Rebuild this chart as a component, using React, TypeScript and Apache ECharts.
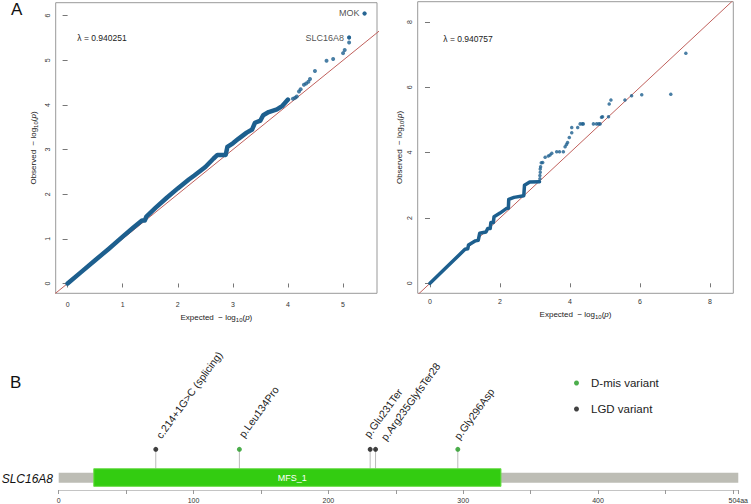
import React, { useEffect, useRef } from "react";
import * as echarts from "echarts";

// ---------- Panel A: QQ plots ----------
const leftLambda = "λ = 0.940251";
const rightLambda = "λ = 0.940757";

// dense body of the left QQ plot (expected, observed)
const leftBulk: [number, number][] = [
  [0, 0], [0.25, 0.26], [0.5, 0.52], [0.75, 0.78], [1.0, 1.05], [1.2, 1.26],
  [1.35, 1.41], [1.4, 1.41], [1.43, 1.5], [1.6, 1.7], [1.8, 1.92], [2.0, 2.13],
  [2.2, 2.33], [2.3, 2.42], [2.5, 2.61], [2.65, 2.8], [2.72, 2.88], [2.87, 2.88],
  [2.9, 3.06], [3.0, 3.14], [3.1, 3.24], [3.25, 3.38], [3.35, 3.45], [3.4, 3.6],
  [3.5, 3.65], [3.55, 3.77], [3.65, 3.84], [3.8, 3.9], [3.9, 3.98], [4.0, 4.12],
];
const leftTail: [number, number][] = [
  [4.09, 4.14], [4.13, 4.16], [4.16, 4.19], [4.2, 4.3], [4.23, 4.35], [4.29, 4.45],
  [4.33, 4.48], [4.37, 4.52], [4.4, 4.58], [4.49, 4.76], [4.7, 4.99], [4.82, 5.03],
  [5.0, 5.16], [5.03, 5.23], [5.11, 5.4], [5.11, 5.51], [5.39, 6.05],
];
const leftLabelNames = ["MOK", "SLC16A8"];
const leftLabelPoints: [number, number][] = [[5.39, 6.05], [5.11, 5.51]];

const rightBulk: [number, number][] = [
  [0, 0], [0.5, 0.52], [1.0, 1.04], [1.08, 1.06], [1.1, 1.17], [1.3, 1.3],
  [1.38, 1.32], [1.42, 1.53], [1.6, 1.57], [1.65, 1.68], [1.72, 1.68], [1.74, 1.86],
  [1.81, 1.86], [1.83, 2.04], [2.0, 2.15], [2.2, 2.3], [2.24, 2.3], [2.25, 2.57],
  [2.4, 2.63], [2.68, 2.68], [2.7, 3.0], [2.85, 3.1], [3.13, 3.11],
];
const rightTail: [number, number][] = [
  [3.14, 3.2], [3.14, 3.3], [3.15, 3.4], [3.15, 3.5], [3.16, 3.57], [3.18, 3.69],
  [3.22, 3.7], [3.29, 3.86], [3.38, 3.9], [3.43, 3.93], [3.48, 3.98], [3.62, 4.03],
  [3.7, 4.03], [3.81, 4.03], [3.86, 4.18], [3.9, 4.25], [3.93, 4.31], [3.98, 4.46],
  [4.05, 4.61], [4.05, 4.77], [4.22, 4.77], [4.29, 4.88], [4.35, 4.88], [4.38, 4.88],
  [4.67, 4.88], [4.76, 4.88], [4.82, 4.88], [4.86, 4.88], [4.9, 5.08], [4.93, 5.1],
  [5.1, 5.1], [5.12, 5.49], [5.17, 5.61], [5.57, 5.61], [5.76, 5.74], [6.05, 5.77],
  [6.88, 5.79], [7.31, 7.04],
];
const leftXTicks = [0, 1, 2, 3, 4, 5];
const leftYTicks = [0, 1, 2, 3, 4, 5, 6];
const rightTicks = [0, 2, 4, 6, 8];
const diagonal: [number, number][] = [[-1, -1], [10, 10]];

// ---------- Panel B: protein diagram ----------
const geneName = "SLC16A8";
const geneLength = 504;
const domainNames = ["MFS_1"];
const domainStarts = [26];
const domainEnds = [328];
const variantNames = [
  "c.214+1G>C (splicing)",
  "p.Leu134Pro",
  "p.Glu231Ter",
  "p.Arg235GlyfsTer28",
  "p.Gly296Asp",
];
const variantPos = [72, 134, 231, 235, 296];
const variantTypes = ["LGD variant", "D-mis variant", "LGD variant", "LGD variant", "D-mis variant"];
const legendNames = ["D-mis variant", "LGD variant"];
const geneTicks = [0, 50, 100, 150, 200, 250, 300, 350, 400, 450, 500, 504];
const geneTickLabels = [0, 100, 200, 300, 400, 504];

// ---------- styles / layout ----------
const FONT = '"Liberation Sans", Arial, Helvetica, sans-serif';
const BLUE = "#1d5f8e";
const RED = "#c0605c";
const DMIS = "#1f9a1f";
const LGD = "#111111";
const GENE_GREY = "#bdbdb5";
const DOMAIN_GREEN = "#33cc11";
// y positions (axis units = px above axis line) inside panel B grid
const GENE_LO = 7.3, GENE_HI = 17.7, DOM_LO = 3.7, DOM_HI = 21.7, HEAD_Y = 41.5;
const LABEL_ANGLE = 54;
// label nudges (px) to keep neighbouring rotated labels apart
const labelNudgeX = [0, -1, -6.5, 5, -4];
const labelNudgeY = [0, -1, -1, 2, 1];

const nameRich = {
  n: { fontSize: 8, color: "#222", fontFamily: FONT },
  s: { fontSize: 6, color: "#222", fontFamily: FONT, padding: [5, 0, 0, 0] },
  i: { fontSize: 8, color: "#222", fontFamily: FONT, fontStyle: "italic" },
};
const expName = "{n|Expected  \u2212 log}{s|10}{n|(}{i|p}{n|)}";
const obsName = "{n|Observed  \u2212 log}{s|10}{n|(}{i|p}{n|)}";

function qqX(gridIndex: number, min: number, max: number, ticks: number[], nameGap: number, margin: number) {
  return {
    type: "value", gridIndex, min, max,
    axisLine: { show: false },
    axisTick: { show: true, length: 4, lineStyle: { color: "#777" }, customValues: ticks },
    axisLabel: { show: true, fontSize: 7, color: "#333", fontFamily: FONT, margin, customValues: ticks },
    splitLine: { show: false },
    name: expName, nameLocation: "middle", nameGap,
    nameTextStyle: { rich: nameRich },
  };
}
function qqY(gridIndex: number, min: number, max: number, ticks: number[], nameGap: number, margin: number) {
  return {
    type: "value", gridIndex, min, max,
    axisLine: { show: false },
    axisTick: { show: true, length: 5, lineStyle: { color: "#777" }, customValues: ticks },
    axisLabel: { show: true, fontSize: 7, color: "#333", fontFamily: FONT, margin, rotate: 90, customValues: ticks },
    splitLine: { show: false },
    name: obsName, nameLocation: "middle", nameGap, nameRotate: 90,
    nameTextStyle: { rich: nameRich },
  };
}

export default function App() {
  const ref = useRef<HTMLDivElement>(null);
  useEffect(() => {
    if (!ref.current) return;
    const chart = echarts.init(ref.current, undefined, { renderer: "svg" });
    const option: any = {
      animation: false,
      backgroundColor: "#ffffff",
      textStyle: { fontFamily: FONT },
      legend: {
        data: legendNames,
        orient: "vertical",
        left: 569,
        top: 372,
        itemWidth: 5,
        itemHeight: 5,
        itemGap: 14,
        icon: "circle",
        selectedMode: false,
        textStyle: { fontSize: 11.5, color: "#222", fontFamily: FONT, padding: [0, 0, 0, 7] },
      },
      grid: [
        { left: 55.7, top: 2.7, width: 321.3, height: 290.6, show: true, borderColor: "#999", borderWidth: 1, containLabel: false },
        { left: 417.7, top: 1.7, width: 315.6, height: 291.6, show: true, borderColor: "#999", borderWidth: 1, containLabel: false },
        { left: 58.7, top: 440, width: 681.9, height: 51, show: false, containLabel: false },
      ],
      xAxis: [
        qqX(0, -0.216, 5.616, leftXTicks, 13, 8),
        qqX(1, -0.351, 8.666, rightTicks, 8, 5),
        {
          type: "value", gridIndex: 2, min: 0, max: geneLength,
          axisLine: { show: true, lineStyle: { color: "#c4c4c4", width: 1 } },
          axisTick: { show: true, length: 4, lineStyle: { color: "#999" }, customValues: geneTicks },
          axisLabel: {
            show: true, fontSize: 7, color: "#333", fontFamily: FONT, margin: 7,
            customValues: geneTickLabels,
            formatter: (v: number) => (v === geneLength ? `${v}aa` : `${v}`),
          },
          splitLine: { show: false },
        },
      ],
      yAxis: [
        qqY(0, -0.22, 6.29, leftYTicks, 17, 5),
        qqY(1, -0.306, 8.62, rightTicks, 12, 5),
        { type: "value", gridIndex: 2, min: 0, max: 51, show: false },
      ],
      series: [
        // left QQ
        { type: "line", xAxisIndex: 0, yAxisIndex: 0, data: diagonal, showSymbol: false, clip: true,
          lineStyle: { color: RED, width: 1 }, silent: true, z: 1 },
        { type: "line", xAxisIndex: 0, yAxisIndex: 0, data: leftBulk, showSymbol: false, clip: true,
          lineStyle: { color: BLUE, width: 4.5, cap: "round", join: "round" }, z: 2 },
        { type: "scatter", xAxisIndex: 0, yAxisIndex: 0, data: leftTail, symbolSize: 4,
          itemStyle: { color: BLUE }, z: 3 },
        { type: "scatter", xAxisIndex: 0, yAxisIndex: 0, symbolSize: 4, itemStyle: { color: BLUE }, z: 3,
          data: leftLabelPoints.map((p, i) => ({ value: p, name: leftLabelNames[i] })),
          label: { show: true, position: "left", distance: 3, formatter: "{b}", fontSize: 9, color: "#222", fontFamily: FONT } },
        // right QQ
        { type: "line", xAxisIndex: 1, yAxisIndex: 1, data: diagonal, showSymbol: false, clip: true,
          lineStyle: { color: RED, width: 1 }, silent: true, z: 1 },
        { type: "line", xAxisIndex: 1, yAxisIndex: 1, data: rightBulk, showSymbol: false, clip: true,
          lineStyle: { color: BLUE, width: 3.5, cap: "round", join: "round" }, z: 2 },
        { type: "scatter", xAxisIndex: 1, yAxisIndex: 1, data: rightTail, symbolSize: 3.5,
          itemStyle: { color: BLUE }, z: 3 },
        // gene body
        {
          type: "custom", xAxisIndex: 2, yAxisIndex: 2, data: [[0, geneLength]], z: 2,
          renderItem: (_p: any, api: any) => {
            const a = api.coord([api.value(0), GENE_LO]);
            const b = api.coord([api.value(1), GENE_HI]);
            return { type: "rect", shape: { x: a[0], y: b[1], width: b[0] - a[0], height: a[1] - b[1] },
              style: { fill: GENE_GREY } };
          },
        },
        // domains
        {
          type: "custom", xAxisIndex: 2, yAxisIndex: 2, z: 4,
          data: domainStarts.map((s, i) => [s, domainEnds[i], i]),
          renderItem: (_p: any, api: any) => {
            const a = api.coord([api.value(0), DOM_LO]);
            const b = api.coord([api.value(1), DOM_HI]);
            const name = domainNames[api.value(2)];
            return {
              type: "group",
              children: [
                { type: "rect", shape: { x: a[0], y: b[1], width: b[0] - a[0], height: a[1] - b[1] },
                  style: { fill: DOMAIN_GREEN, stroke: "#6bdc4a", lineWidth: 1 } },
                { type: "text", x: (a[0] + b[0]) / 2 - 5, y: (a[1] + b[1]) / 2,
                  style: { text: name, fill: "#ffffff", fontSize: 9, fontFamily: FONT, align: "center", verticalAlign: "middle" } },
              ],
            };
          },
        },
        // stems + variant labels
        {
          type: "custom", xAxisIndex: 2, yAxisIndex: 2, z: 1,
          data: variantPos.map((p, i) => [p, i]),
          renderItem: (_p: any, api: any) => {
            const top = api.coord([api.value(0), HEAD_Y]);
            const bot = api.coord([api.value(0), DOM_HI]);
            const i = api.value(1);
            const name = variantNames[i];
            return {
              type: "group",
              children: [
                { type: "line", shape: { x1: top[0], y1: top[1], x2: bot[0], y2: bot[1] },
                  style: { stroke: "#bbbbbb", lineWidth: 1 } },
                { type: "text", x: top[0] + 7 + labelNudgeX[i], y: top[1] - 9 + labelNudgeY[i],
                  rotation: (LABEL_ANGLE * Math.PI) / 180,
                  style: { text: name, fill: "#222", fontSize: 10.5, fontFamily: FONT, align: "left", verticalAlign: "bottom" } },
              ],
            };
          },
        },
        // lollipop heads (legend series)
        ...legendNames.map((ln) => ({
          type: "scatter", name: ln, xAxisIndex: 2, yAxisIndex: 2, symbol: "circle", symbolSize: 5, z: 5,
          itemStyle: { color: ln === "D-mis variant" ? DMIS : LGD },
          data: variantPos.filter((_, i) => variantTypes[i] === ln).map((p) => [p, HEAD_Y]),
        })),
      ],
      graphic: [
        { type: "text", left: 11, top: 1, style: { text: "A", fontSize: 17, fill: "#111", fontFamily: FONT } },
        { type: "text", left: 10, top: 374, style: { text: "B", fontSize: 17, fill: "#111", fontFamily: FONT } },
        { type: "text", x: 77.3, y: 38.3, style: { text: leftLambda, fontSize: 8.5, fill: "#222", fontFamily: FONT, align: "left", verticalAlign: "middle" } },
        { type: "text", x: 443.3, y: 39, style: { text: rightLambda, fontSize: 8.5, fill: "#222", fontFamily: FONT, align: "left", verticalAlign: "middle" } },
        { type: "text", x: 53, y: 478.5, style: { text: geneName, fontSize: 12, fontStyle: "italic", fill: "#111", fontFamily: FONT, align: "right", verticalAlign: "middle" } },
      ],
    };
    chart.setOption(option);
    return () => chart.dispose();
  }, []);
  return <div ref={ref} style={{ position: "absolute", left: 0, top: 0, width: 751, height: 504 }} />;
}
